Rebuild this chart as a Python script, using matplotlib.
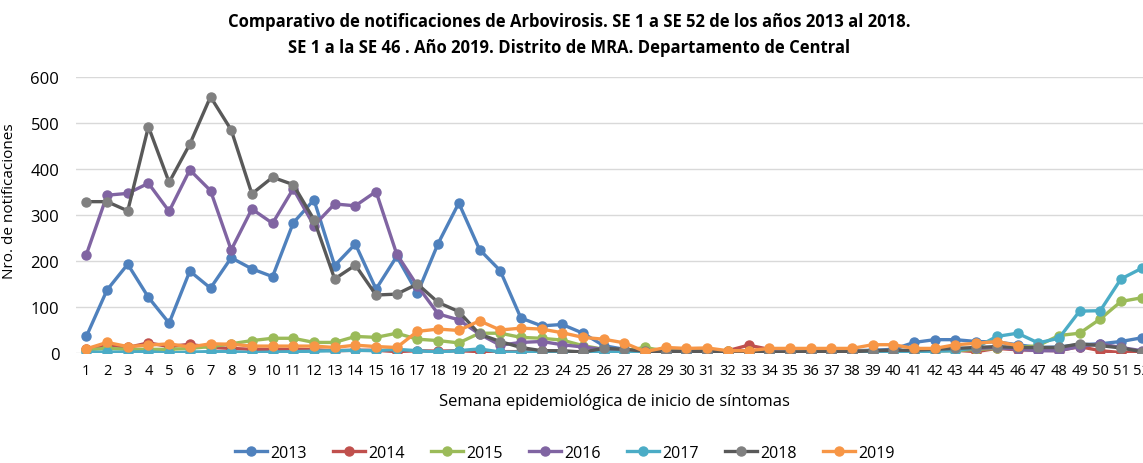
import matplotlib
matplotlib.use("Agg")
import matplotlib.pyplot as plt

plt.rcParams['font.family'] = ['Open Sans', 'DejaVu Sans']

# Semanas epidemiologicas
weeks = list(range(1, 53))

y2013 = [36, 137, 193, 121, 65, 178, 141, 207, 183, 166, 283, 333, 190, 237, 139, 210,
         130, 238, 326, 225, 179, 76, 59, 62, 43, 16, 8, 5, 6, 5, 5, 3, 5, 4, 3, 3,
         4, 5, 6, 8, 23, 29, 29, 25, 24, 18, 12, 13, 18, 20, 25, 33]
y2014 = [8, 18, 12, 22, 14, 19, 12, 10, 8, 8, 8, 7, 5, 6, 6, 3, 5, 4, 5, 3, 3, 3,
         4, 3, 3, 3, 4, 3, 4, 3, 4, 5, 17, 8, 5, 4, 4, 3, 4, 4, 4, 5, 6, 3, 10, 7,
         6, 5, 14, 5, 1, 2]
y2015 = [7, 10, 8, 8, 8, 10, 14, 20, 27, 32, 32, 23, 23, 36, 34, 43, 30, 27, 22, 43,
         43, 34, 32, 28, 16, 8, 5, 12, 4, 4, 4, 5, 4, 3, 3, 3, 3, 3, 4, 3, 3, 5, 5,
         8, 10, 12, 16, 38, 43, 74, 112, 120]
y2016 = [214, 343, 347, 369, 308, 398, 353, 224, 313, 282, 357, 277, 324, 320, 351,
         215, 146, 85, 72, 41, 17, 23, 25, 18, 13, 8, 6, 3, 3, 3, 3, 2, 3, 3, 2, 2,
         3, 3, 3, 4, 4, 6, 8, 10, 12, 8, 5, 5, 14, 20, 12, 5]
y2017 = [2, 2, 2, 3, 0, 2, 3, 3, 1, 2, 3, 4, 5, 6, 5, 8, 5, 2, 5, 9, 2, 2, 1, 1, 1,
         2, 2, 1, 1, 1, 1, 2, 1, 1, 1, 1, 1, 2, 2, 2, 2, 4, 5, 12, 36, 43, 22, 32,
         91, 92, 161, 184]
y2018 = [329, 329, 309, 492, 371, 454, 557, 485, 346, 382, 366, 290, 161, 191, 126,
         128, 150, 110, 90, 41, 25, 12, 5, 5, 2, 10, 8, 4, 3, 4, 3, 2, 2, 2, 2, 3, 3,
         3, 5, 6, 6, 8, 10, 12, 14, 12, 12, 12, 20, 16, 11, 3]
y2019 = [9, 23, 14, 17, 20, 13, 20, 19, 15, 15, 15, 15, 12, 17, 14, 12, 47, 52, 49,
         70, 50, 54, 52, 44, 34, 30, 22, 3, 12, 10, 11, 5, 5, 10, 10, 10, 10, 10, 18,
         18, 10, 10, 18, 21, 25, 16]

series = [
    ("2013", y2013, "#4F81BD", "#4F81BD"),
    ("2014", y2014, "#C0504D", "#C0504D"),
    ("2015", y2015, "#9BBB59", "#9BBB59"),
    ("2016", y2016, "#8064A2", "#8064A2"),
    ("2017", y2017, "#4BACC6", "#4BACC6"),
    ("2018", y2018, "#595959", "#808080"),
    ("2019", y2019, "#F79646", "#F79646"),
]

fig = plt.figure(figsize=(11.43, 4.64), dpi=100)
# plot area runs past the right edge, as in the original (week 52 is cut)
ax = fig.add_axes([76 / 1143, 110 / 464, 1076 / 1143, 276 / 464])

for name, vals, lc, mc in series:
    ax.plot(weeks[:len(vals)], vals, color=lc, lw=2.4, marker="o", ms=6.5,
            mfc=mc, mec=mc, label=name, solid_joinstyle="round")

ax.set_xlim(0.5, 52.5)
ax.set_ylim(0, 600)
ax.set_xticks(weeks)
ax.set_yticks(range(0, 601, 100))
ax.tick_params(axis="x", length=0, labelsize=10.5, pad=7)
ax.tick_params(axis="y", length=0, labelsize=12, pad=12)
ax.grid(axis="y", color="#D9D9D9", lw=1)
ax.set_axisbelow(True)
for s in ax.spines.values():
    s.set_visible(False)

ax.set_ylabel("Nro. de notificaciones", fontsize=11)
ax.yaxis.set_label_coords(-0.055, 0.554)
fig.text(614 / 1143, 1 - 402 / 464,
         "Semana epidemiológica de inicio de síntomas", fontsize=12,
         ha="center", va="center")

fig.text(569 / 1143, 1 - 22 / 464,
         "Comparativo de notificaciones de Arbovirosis. SE 1 a SE 52 de los años 2013 al 2018.",
         fontsize=12, fontweight="bold", ha="center", va="center")
fig.text(569 / 1143, 1 - 48 / 464,
         "SE 1 a la SE 46 . Año 2019. Distrito de MRA. Departamento de Central",
         fontsize=12, fontweight="bold", ha="center", va="center")

fig.legend(loc="center", bbox_to_anchor=(565 / 1143, 1 - 454 / 464), ncol=7,
           frameon=False, fontsize=11.5, handlelength=2.0, columnspacing=1.6,
           handletextpad=0.25)

fig.savefig("out.png", dpi=100)
